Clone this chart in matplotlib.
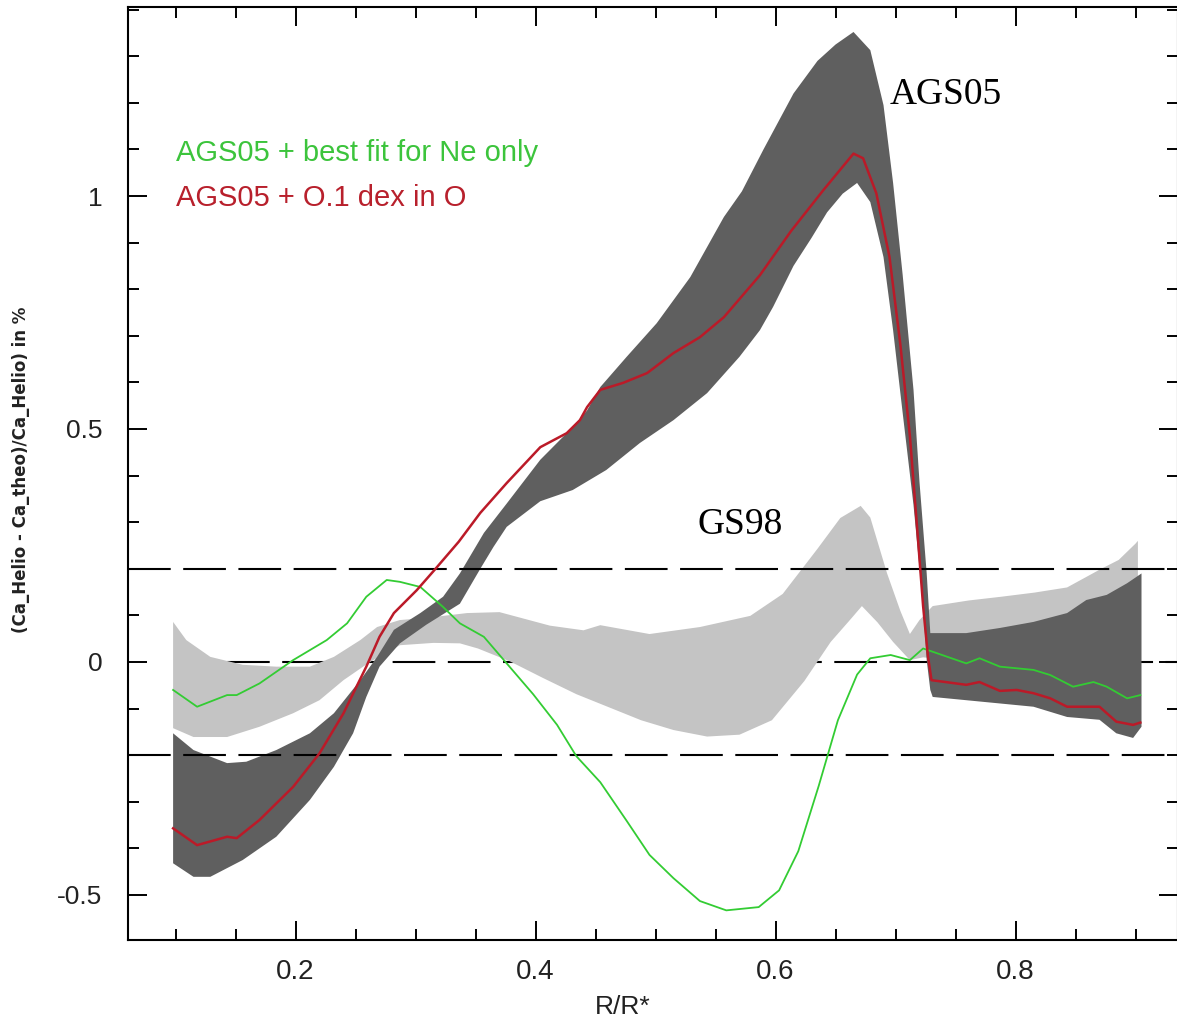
# разница Ca_Helio и Ca_theo в процентах: полосы AGS05 / GS98 и две кривые

import matplotlib
matplotlib.use("Agg")
import matplotlib.pyplot as plt
import numpy as np
from matplotlib.ticker import MultipleLocator, FuncFormatter

plt.rcParams['axes.unicode_minus'] = False

# полоса AGS05 (тёмная) - верхний и нижний край
ags_up_x = [0.098, 0.115, 0.143, 0.159, 0.184, 0.212, 0.232, 0.254, 0.268, 0.282,
            0.304, 0.323, 0.337, 0.357, 0.376, 0.404, 0.431, 0.443, 0.454, 0.476,
            0.501, 0.529, 0.557, 0.572, 0.590, 0.615, 0.635, 0.650, 0.665, 0.679,
            0.690, 0.698, 0.706, 0.715, 0.720, 0.726, 0.729, 0.731, 0.759, 0.787,
            0.815, 0.843, 0.859, 0.876, 0.893, 0.905]
ags_up_y = [-0.153, -0.189, -0.217, -0.214, -0.189, -0.153, -0.110, -0.039, 0.011, 0.069,
            0.105, 0.140, 0.190, 0.277, 0.340, 0.434, 0.504, 0.540, 0.590, 0.655,
            0.727, 0.826, 0.955, 1.010, 1.100, 1.220, 1.290, 1.325, 1.352, 1.313,
            1.195, 1.028, 0.830, 0.584, 0.386, 0.190, 0.062, 0.062, 0.062, 0.073,
            0.086, 0.105, 0.133, 0.144, 0.169, 0.190]
ags_lo_x = [0.098, 0.115, 0.129, 0.156, 0.184, 0.212, 0.232, 0.248, 0.259, 0.270,
            0.287, 0.309, 0.337, 0.354, 0.365, 0.376, 0.404, 0.431, 0.459, 0.487,
            0.515, 0.543, 0.570, 0.587, 0.598, 0.615, 0.630, 0.643, 0.656, 0.668,
            0.679, 0.690, 0.698, 0.706, 0.715, 0.723, 0.726, 0.729, 0.731, 0.759,
            0.787, 0.815, 0.843, 0.870, 0.884, 0.898, 0.905]
ags_lo_y = [-0.432, -0.461, -0.461, -0.425, -0.375, -0.296, -0.225, -0.153, -0.075, -0.010,
            0.040, 0.080, 0.125, 0.200, 0.247, 0.290, 0.345, 0.369, 0.412, 0.470,
            0.519, 0.577, 0.655, 0.712, 0.762, 0.850, 0.910, 0.965, 1.005, 1.028,
            0.987, 0.869, 0.712, 0.534, 0.337, 0.120, 0.004, -0.060, -0.075, -0.082,
            -0.089, -0.096, -0.118, -0.124, -0.153, -0.163, -0.139]

# полоса GS98 (светлая)
gs_up_x = [0.098, 0.109, 0.129, 0.156, 0.184, 0.212, 0.232, 0.254, 0.268, 0.287,
           0.310, 0.343, 0.370, 0.412, 0.440, 0.454, 0.495, 0.537, 0.579, 0.606,
           0.635, 0.654, 0.671, 0.679, 0.693, 0.704, 0.712, 0.720, 0.731, 0.761,
           0.788, 0.816, 0.843, 0.870, 0.886, 0.900, 0.902]
gs_up_y = [0.086, 0.047, 0.011, -0.006, -0.010, -0.010, 0.011, 0.047, 0.075, 0.090,
           0.095, 0.105, 0.107, 0.078, 0.068, 0.079, 0.060, 0.075, 0.099, 0.146,
           0.243, 0.309, 0.335, 0.310, 0.190, 0.110, 0.060, 0.090, 0.120, 0.132,
           0.140, 0.149, 0.160, 0.198, 0.219, 0.254, 0.260]
gs_lo_x = [0.098, 0.115, 0.143, 0.170, 0.198, 0.220, 0.240, 0.262, 0.287, 0.315,
           0.337, 0.352, 0.379, 0.406, 0.434, 0.461, 0.488, 0.515, 0.543, 0.570,
           0.597, 0.624, 0.646, 0.663, 0.672, 0.685, 0.698, 0.712, 0.723, 0.760,
           0.902]
gs_lo_y = [-0.142, -0.161, -0.161, -0.139, -0.110, -0.082, -0.039, 0.000, 0.036, 0.041,
           0.040, 0.029, 0.001, -0.034, -0.069, -0.097, -0.125, -0.146, -0.160, -0.156,
           -0.125, -0.041, 0.043, 0.093, 0.120, 0.085, 0.043, 0.004, 0.010, 0.000,
           0.000]

# AGS05 + 0.1 dex in O (красная)
red_x = [0.098, 0.118, 0.143, 0.151, 0.170, 0.198, 0.220, 0.240, 0.259, 0.270,
         0.282, 0.301, 0.316, 0.336, 0.354, 0.376, 0.404, 0.426, 0.437, 0.443,
         0.454, 0.473, 0.493, 0.515, 0.537, 0.557, 0.587, 0.613, 0.640, 0.665,
         0.673, 0.684, 0.695, 0.704, 0.712, 0.718, 0.723, 0.727, 0.730, 0.759,
         0.770, 0.787, 0.801, 0.815, 0.829, 0.843, 0.870, 0.884, 0.898, 0.904]
red_y = [-0.357, -0.393, -0.375, -0.378, -0.339, -0.268, -0.196, -0.110, -0.010, 0.054,
         0.105, 0.154, 0.198, 0.258, 0.320, 0.384, 0.461, 0.491, 0.519, 0.547,
         0.584, 0.599, 0.620, 0.663, 0.697, 0.740, 0.830, 0.925, 1.013, 1.091,
         1.081, 1.006, 0.869, 0.682, 0.485, 0.288, 0.120, 0.013, -0.039, -0.049,
         -0.043, -0.062, -0.060, -0.067, -0.078, -0.096, -0.096, -0.128, -0.135, -0.130]

# AGS05 + best fit for Ne only (зелёная)
green_x = [0.098, 0.118, 0.143, 0.151, 0.170, 0.198, 0.226, 0.243, 0.259, 0.276,
           0.287, 0.304, 0.323, 0.337, 0.357, 0.379, 0.398, 0.418, 0.434, 0.454,
           0.476, 0.495, 0.515, 0.537, 0.559, 0.586, 0.603, 0.619, 0.636, 0.652,
           0.668, 0.679, 0.696, 0.712, 0.723, 0.731, 0.759, 0.770, 0.787, 0.815,
           0.829, 0.848, 0.865, 0.876, 0.893, 0.904]
green_y = [-0.060, -0.096, -0.071, -0.071, -0.046, 0.004, 0.047, 0.083, 0.140, 0.176,
           0.172, 0.161, 0.118, 0.083, 0.054, -0.012, -0.069, -0.135, -0.202, -0.258,
           -0.341, -0.414, -0.464, -0.513, -0.533, -0.526, -0.490, -0.406, -0.266, -0.125,
           -0.027, 0.008, 0.015, 0.004, 0.029, 0.022, -0.003, 0.008, -0.010, -0.017,
           -0.028, -0.053, -0.043, -0.053, -0.078, -0.071]

ref_levels = [0.2, -0.2]  # пунктир +-0.2 %
zero_level = 0.0


def band(ax, xu, yu, xl, yl, color, z):
    # замкнутый многоугольник: верхний край туда, нижний обратно
    xs = np.concatenate([xu, np.array(xl)[::-1]])
    ys = np.concatenate([yu, np.array(yl)[::-1]])
    ax.fill(xs, ys, color=color, lw=0, zorder=z)


def main():
    fig = plt.figure(figsize=(11.77, 10.26), dpi=100)
    ax = fig.add_axes([127.5 / 1177, 86 / 1026, 1050.5 / 1177, 933 / 1026])

    dash = (0, (20.5, 6.0))
    ax.axhline(zero_level, xmin=0.095, color='black', lw=1.5, ls=dash, zorder=1)

    band(ax, gs_up_x, gs_up_y, gs_lo_x, gs_lo_y, '#c4c4c4', 2)
    band(ax, ags_up_x, ags_up_y, ags_lo_x, ags_lo_y, '#5f5f5f', 3)

    for lev in ref_levels:
        ax.axhline(lev, color='black', lw=1.5, ls=dash, zorder=4)

    ax.plot(green_x, green_y, color='#33cc33', lw=1.3, zorder=5)
    ax.plot(red_x, red_y, color='#bb1a28', lw=1.8, zorder=6)

    ax.text(0.100, 1.092, 'AGS05 + best fit for Ne only', color='#3cc43c',
            fontsize=21, family=['Liberation Sans', 'DejaVu Sans'], va='center')
    ax.text(0.100, 0.996, 'AGS05 + O.1 dex in O', color='#b8202c',
            fontsize=21, family=['Liberation Sans', 'DejaVu Sans'], va='center')
    ax.text(0.6954, 1.217, 'AGS05', fontsize=27, family='Liberation Serif', va='center')
    ax.text(0.5346, 0.294, 'GS98', fontsize=27, family='Liberation Serif', va='center')

    ax.set_xlim(0.06, 0.06 + 1050.5 / 1200)
    ax.set_ylim(-0.5966, 1.4056)

    ax.xaxis.set_major_locator(MultipleLocator(0.2))
    ax.xaxis.set_minor_locator(MultipleLocator(0.05))
    ax.yaxis.set_major_locator(MultipleLocator(0.5))
    ax.yaxis.set_minor_locator(MultipleLocator(0.1))
    fmt = FuncFormatter(lambda v, p: '%g' % round(v, 3))
    ax.xaxis.set_major_formatter(fmt)
    ax.yaxis.set_major_formatter(fmt)

    ax.tick_params(which='both', direction='in', top=True, right=True, width=1.4)
    ax.tick_params(which='major', length=13.5)
    ax.tick_params(which='minor', length=7.7)
    ax.tick_params(axis='x', pad=14, labelsize=20)
    ax.tick_params(axis='y', pad=18, labelsize=19)
    for lab in ax.get_xticklabels() + ax.get_yticklabels():
        lab.set_family(['Liberation Sans Narrow', 'Liberation Sans', 'DejaVu Sans'])
        lab.set_color('#222222')
    for sp in ax.spines.values():
        sp.set_linewidth(1.5)

    ax.set_xlabel('R/R*', fontsize=19, family=['Liberation Sans Narrow', 'Liberation Sans'],
                  color='#222222')
    ax.xaxis.set_label_coords(0.471, -0.059)
    ax.set_ylabel('(Ca_Helio - Ca_theo)/Ca_Helio) in %', fontsize=12, fontweight='bold',
                  family=['Liberation Sans Narrow', 'DejaVu Sans'], color='#222222')
    ax.yaxis.set_label_coords(-0.093, 0.504)

    fig.savefig('out.png', dpi=100)


if __name__ == "__main__":
    main()
